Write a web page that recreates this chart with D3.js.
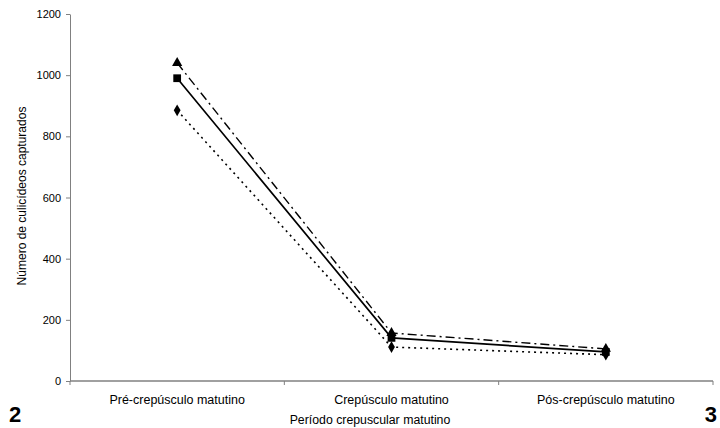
<!DOCTYPE html>
<meta charset="utf-8">
<script src="https://cdn.jsdelivr.net/npm/d3@7"></script>
<style>
  body { margin: 0; background: #fff; }
  text { font-family: "Liberation Sans", Arial, sans-serif; fill: #000; }
</style>
<div id="my_dataviz"></div>
<script>

// data
var categories = ["Pré-crepúsculo matutino", "Crepúsculo matutino", "Pós-crepúsculo matutino"];
var triangleSeries = [1040, 157, 105];
var squareSeries   = [990, 141, 95];
var diamondSeries  = [885, 111, 86];
var yTicks = [0, 200, 400, 600, 800, 1000, 1200];

var margin = {top: 14, right: 7, bottom: 47, left: 70},
    width = 720 - margin.left - margin.right,
    height = 428 - margin.top - margin.bottom;

var svg = d3.select("#my_dataviz")
  .append("svg")
    .attr("width", 720)
    .attr("height", 428);

var g = svg.append("g")
    .attr("transform", "translate(" + margin.left + "," + margin.top + ")");

var x = d3.scaleBand()
    .domain(categories)
    .range([0, width]);

var y = d3.scaleLinear()
    .domain([0, 1200])
    .range([height, 0]);

// Y axis
var yAxis = g.append("g")
    .call(d3.axisLeft(y).tickValues(yTicks).tickFormat(d3.format("d")).tickSize(4).tickSizeOuter(0));
yAxis.select(".domain").attr("stroke", "#808080");
yAxis.selectAll(".tick line").attr("stroke", "#808080");
yAxis.selectAll(".tick text")
    .attr("x", -9)
    .style("font-size", "11px")
    .style("font-family", "Liberation Sans, Arial, sans-serif");

// X axis: line with ticks on band boundaries
var xAxis = g.append("g")
    .attr("transform", "translate(0," + height + ")");
xAxis.append("line")
    .attr("x1", 0).attr("x2", width)
    .attr("stroke", "#808080").attr("stroke-width", 1.5);
var bounds = categories.map(function(c) { return x(c); }).concat([width]);
xAxis.selectAll(".xtick")
  .data(bounds)
  .enter().append("line")
    .attr("x1", function(d) { return d; })
    .attr("x2", function(d) { return d; })
    .attr("y1", 0).attr("y2", 4)
    .attr("stroke", "#808080");
xAxis.selectAll(".xlabel")
  .data(categories)
  .enter().append("text")
    .attr("x", function(d) { return x(d) + x.bandwidth() / 2; })
    .attr("y", 23)
    .attr("text-anchor", "middle")
    .style("font-size", "12.5px")
    .text(function(d) { return d; });

// axis titles
svg.append("text")
    .attr("transform", "rotate(-90)")
    .attr("x", -196)
    .attr("y", 26)
    .attr("text-anchor", "middle")
    .style("font-size", "12px")
    .text("Número de culicídeos capturados");

svg.append("text")
    .attr("x", 370)
    .attr("y", 424)
    .attr("text-anchor", "middle")
    .style("font-size", "12.3px")
    .text("Período crepuscular matutino");

// panel numbers
svg.append("text")
    .attr("x", 9).attr("y", 422)
    .style("font-size", "22px").style("font-weight", "bold")
    .text("2");
svg.append("text")
    .attr("x", 717).attr("y", 422)
    .attr("text-anchor", "end")
    .style("font-size", "22px").style("font-weight", "bold")
    .text("3");

// series lines
var line = d3.line()
    .x(function(d, i) { return x(categories[i]) + x.bandwidth() / 2; })
    .y(function(d) { return y(d); });

var series = [
  {values: diamondSeries, dash: "2,4", width: 1.6, symbol: d3.symbolDiamond, size: 40},
  {values: triangleSeries, dash: "9,4,2,4", width: 1.4, symbol: d3.symbolTriangle, size: 45},
  {values: squareSeries, dash: null, width: 1.7, symbol: d3.symbolSquare, size: 60}
];

series.forEach(function(s) {
  g.append("path")
    .datum(s.values)
    .attr("fill", "none")
    .attr("stroke", "#000")
    .attr("stroke-width", s.width)
    .attr("stroke-dasharray", s.dash)
    .attr("d", line);

  g.selectAll(null)
    .data(s.values)
    .enter().append("path")
      .attr("transform", function(d, i) {
        return "translate(" + (x(categories[i]) + x.bandwidth() / 2) + "," + y(d) + ")";
      })
      .attr("d", d3.symbol().type(s.symbol).size(s.size))
      .attr("fill", "#000");
});

</script>
